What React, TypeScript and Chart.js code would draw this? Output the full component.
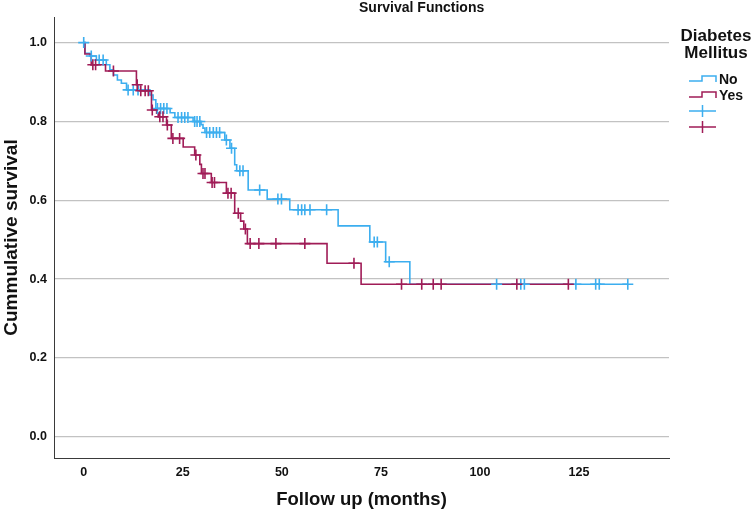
import React, { useEffect, useRef } from "react";
import { Chart, registerables } from "chart.js";

Chart.register(...registerables);

const chartTitle = "Survival Functions";
const xTitle = "Follow up (months)";
const yTitle = "Cummulative survival";
const legendTitle = ["Diabetes", "Mellitus"];
const groupNames = ["No", "Yes"];
const xTicks = [0, 25, 50, 75, 100, 125];
const yTicks = [0, 0.2, 0.4, 0.6, 0.8, 1.0];

// Group "No": step times and survival after each step
const noTimes = [0, 0.3, 1.5, 3.2, 5.7, 6.6, 7.5, 8.5, 9.5, 10.8, 16.7, 17.5, 18.2, 21.8, 23.0, 27.6, 29.6, 30.1, 30.6, 35.6, 36.9, 38.1, 38.6, 41.5, 46.3, 52.0, 64.2, 72.2, 76.2, 82.3, 137.3];
const noSurv = [1.0, 0.973, 0.966, 0.956, 0.944, 0.931, 0.918, 0.905, 0.897, 0.88, 0.867, 0.855, 0.833, 0.822, 0.81, 0.8, 0.792, 0.783, 0.772, 0.753, 0.732, 0.69, 0.675, 0.626, 0.603, 0.576, 0.535, 0.494, 0.444, 0.387, 0.387];
const noCensored = [0, 1.9, 3.9, 4.9, 11.2, 12.5, 13.7, 18.6, 19.4, 20.2, 21.0, 23.8, 24.7, 25.5, 26.3, 28.0, 28.6, 29.3, 31.0, 31.8, 32.7, 33.5, 34.3, 36.0, 37.3, 39.4, 40.2, 44.4, 49.0, 49.9, 54.1, 55.0, 55.8, 57.1, 61.3, 73.3, 74.1, 77.1, 104.2, 110.3, 111.2, 124.2, 129.2, 130.1, 137.3];

// Group "Yes"
const yesTimes = [0, 0.3, 1.9, 5.5, 13.3, 13.8, 17.1, 18.4, 18.8, 20.9, 22.1, 25.1, 28.0, 29.3, 29.7, 32.2, 36.0, 38.1, 39.6, 40.4, 41.3, 61.4, 70.0, 122.3];
const yesSurv = [1.0, 0.971, 0.944, 0.928, 0.893, 0.878, 0.829, 0.821, 0.812, 0.791, 0.757, 0.735, 0.715, 0.691, 0.668, 0.645, 0.618, 0.567, 0.547, 0.527, 0.49, 0.44, 0.387, 0.387];
const yesCensored = [2.3, 3.0, 7.5, 13.5, 14.4, 15.5, 16.3, 17.3, 19.2, 20.0, 21.1, 22.5, 24.2, 28.3, 30.1, 30.6, 32.4, 33.0, 36.4, 37.2, 39.0, 40.8, 42.0, 44.2, 48.5, 55.8, 68.2, 80.2, 85.3, 88.2, 90.2, 109.3, 122.3];

const BLUE = "#3CAEEF";
const RED = "#A01C57";
const FONT = '"Liberation Sans", Arial, Helvetica, sans-serif';

function levelAt(times: number[], surv: number[], t: number) {
  let s = surv[0];
  for (let i = 0; i < times.length; i++) {
    if (times[i] <= t) s = surv[i];
  }
  return s;
}

const textPlugin = {
  id: "texts",
  afterDraw(chart: any) {
    const ctx = chart.ctx as CanvasRenderingContext2D;
    const area = chart.chartArea;
    ctx.save();
    ctx.fillStyle = "#111";
    ctx.textBaseline = "middle";
    // title
    ctx.font = `bold 14px ${FONT}`;
    ctx.textAlign = "left";
    ctx.fillText(chartTitle, 359, 8);
    // x title
    ctx.font = `bold 18.5px ${FONT}`;
    ctx.textAlign = "center";
    ctx.fillText(xTitle, (area.left + area.right) / 2, 500);
    // y title
    ctx.save();
    ctx.translate(12, (area.top + area.bottom) / 2);
    ctx.rotate(-Math.PI / 2);
    ctx.font = `bold 19px ${FONT}`;
    ctx.fillText(yTitle, 0, 0);
    ctx.restore();
    // legend
    ctx.font = `bold 17px ${FONT}`;
    ctx.textAlign = "center";
    ctx.fillText(legendTitle[0], 716, 36);
    ctx.fillText(legendTitle[1], 716, 53);
    const colors = [BLUE, RED];
    const x0 = 689, xm = 702, x1 = 716;
    ctx.font = `bold 14px ${FONT}`;
    ctx.textAlign = "left";
    groupNames.forEach((name, i) => {
      const y = 81 + i * 16;
      ctx.strokeStyle = colors[i];
      ctx.lineWidth = 1.5;
      ctx.beginPath();
      ctx.moveTo(x0, y);
      ctx.lineTo(xm, y);
      ctx.lineTo(xm, y - 5);
      ctx.lineTo(x1, y - 5);
      ctx.lineTo(x1, y + 1);
      ctx.stroke();
      ctx.fillStyle = "#111";
      ctx.fillText(name, 719, y - 1);
    });
    colors.forEach((c, i) => {
      const y = 111 + i * 16;
      ctx.strokeStyle = c;
      ctx.lineWidth = 1.5;
      ctx.beginPath();
      ctx.moveTo(x0, y);
      ctx.lineTo(x1, y);
      ctx.moveTo(xm + 0.5, y - 6);
      ctx.lineTo(xm + 0.5, y + 6);
      ctx.stroke();
    });
    ctx.restore();
  },
};

export default function App() {
  const ref = useRef<HTMLCanvasElement | null>(null);
  useEffect(() => {
    if (!ref.current) return;
    const tickFont = { family: FONT, size: 12.5, weight: "bold" as const };
    const chart = new Chart(ref.current, {
      type: "line",
      data: {
        datasets: [
          {
            label: "Yes censored",
            data: yesCensored.map((t) => ({ x: t, y: levelAt(yesTimes, yesSurv, t) })),
            showLine: false,
            pointStyle: "cross",
            pointRadius: 5.5,
            pointBorderWidth: 1.6,
            borderColor: RED,
            backgroundColor: RED,
            order: 0,
          },
          {
            label: "No censored",
            data: noCensored.map((t) => ({ x: t, y: levelAt(noTimes, noSurv, t) })),
            showLine: false,
            pointStyle: "cross",
            pointRadius: 5.5,
            pointBorderWidth: 1.6,
            borderColor: BLUE,
            backgroundColor: BLUE,
            order: 1,
          },
          {
            label: groupNames[1],
            data: yesTimes.map((t, i) => ({ x: t, y: yesSurv[i] })),
            stepped: "before",
            borderColor: RED,
            borderWidth: 1.6,
            pointRadius: 0,
            fill: false,
            order: 2,
          },
          {
            label: groupNames[0],
            data: noTimes.map((t, i) => ({ x: t, y: noSurv[i] })),
            stepped: "before",
            borderColor: BLUE,
            borderWidth: 1.6,
            pointRadius: 0,
            fill: false,
            order: 3,
          },
        ],
      },
      options: {
        animation: false,
        responsive: true,
        maintainAspectRatio: false,
        layout: { padding: { top: 17, right: 86, left: 0, bottom: 0 } },
        plugins: {
          legend: { display: false },
          tooltip: { enabled: false },
          title: { display: false },
        },
        scales: {
          x: {
            type: "linear",
            min: -7.5,
            max: 147.7,
            afterBuildTicks: (s: any) => {
              s.ticks = xTicks.map((v) => ({ value: v }));
            },
            afterFit: (s: any) => {
              s.height = 53;
            },
            grid: { display: false, drawTicks: false },
            border: { display: true, color: "#3a3a3a", width: 1 },
            ticks: {
              font: tickFont,
              color: "#111",
              padding: 7,
              maxRotation: 0,
              autoSkip: false,
              callback: (v: any) => String(v),
            },
          },
          y: {
            type: "linear",
            min: -0.054,
            max: 1.065,
            afterBuildTicks: (s: any) => {
              s.ticks = yTicks.map((v) => ({ value: v }));
            },
            afterFit: (s: any) => {
              s.width = 54;
            },
            grid: { color: "#c2c2c2", lineWidth: 1.3, drawTicks: false },
            border: { display: true, color: "#3a3a3a", width: 1 },
            ticks: {
              font: tickFont,
              color: "#111",
              padding: 7,
              autoSkip: false,
              callback: (v: any) => Number(v).toFixed(1),
            },
          },
        },
      },
      plugins: [textPlugin],
    });
    return () => chart.destroy();
  }, []);
  return (
    <div style={{ position: "absolute", left: 0, top: 0, width: 755, height: 511, background: "#fff" }}>
      <canvas ref={ref} />
    </div>
  );
}
